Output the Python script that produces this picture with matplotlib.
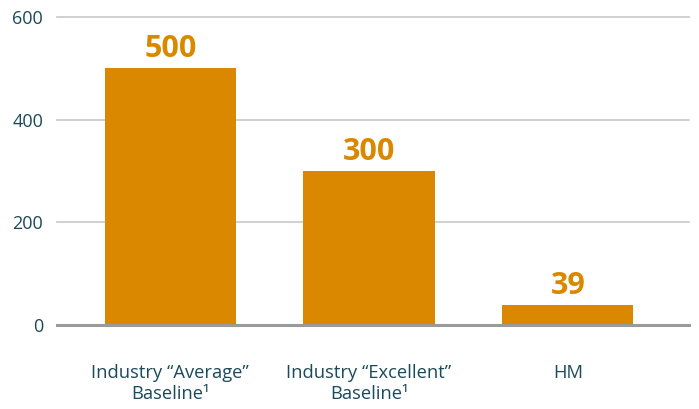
import matplotlib
matplotlib.use("Agg")
import matplotlib.pyplot as plt

categories = ["Industry \u201cAverage\u201d\nBaseline\u00b9",
              "Industry \u201cExcellent\u201d\nBaseline\u00b9",
              "HM"]
values = [500, 300, 39]
yticks = [0, 200, 400, 600]

plt.rcParams['font.family'] = ['Open Sans', 'DejaVu Sans']
text_color = "#1b4a5c"
bar_color = "#d98800"

fig = plt.figure(figsize=(6.99, 4.09), dpi=100)
ax = fig.add_axes([0.0815, 0.2054, 0.9042, 0.753])

x = list(range(len(categories)))
ax.bar(x, values, width=0.66, color=bar_color, zorder=3)
for xi, v in zip(x, values):
    ax.annotate(str(v), (xi, v), xytext=(0, 3), textcoords="offset points",
                ha="center", va="bottom", fontsize=22, fontweight="bold",
                color=bar_color)

ax.set_xlim(-0.57, 2.61)
ax.set_ylim(0, 600)
ax.set_yticks(yticks)
ax.set_yticklabels([str(t) for t in yticks], fontsize=13, color=text_color)
ax.set_xticks(x)
ax.set_xticklabels(categories, fontsize=13.2, color=text_color, linespacing=1.25,
                   va="top")
ax.tick_params(axis="x", length=0, pad=28)
ax.tick_params(axis="y", length=0, pad=10)

for t in yticks[1:]:
    ax.axhline(t, color="#c8c8c8", lw=1.2, zorder=1, clip_on=False)
ax.axhline(0, color="#9a9a9a", lw=2.2, zorder=4, clip_on=False)

for s in ax.spines.values():
    s.set_visible(False)

fig.savefig("out.png", dpi=100)
